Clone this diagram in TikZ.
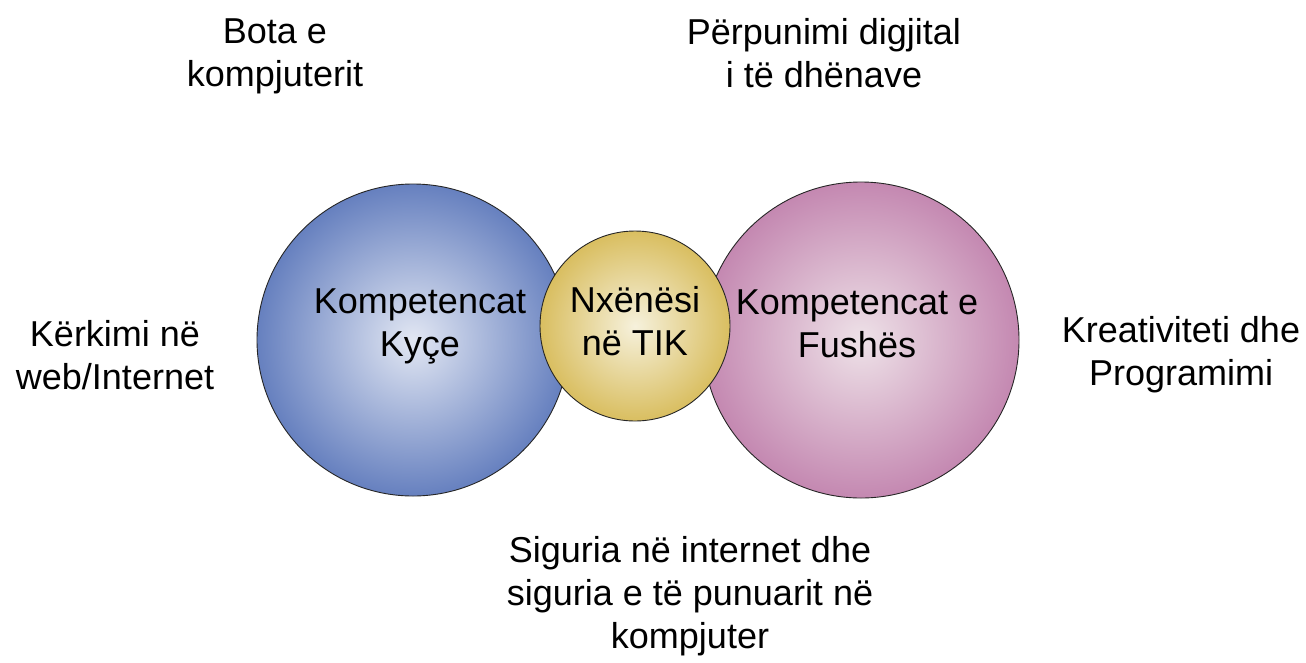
\documentclass[tikz,border=0pt]{standalone}
\usepackage{fontspec}
\setmainfont{Liberation Sans}
\definecolor{blueedge}{HTML}{6680BF}
\definecolor{bluecenter}{HTML}{E2E7F3}
\definecolor{pinkedge}{HTML}{C488B1}
\definecolor{pinkcenter}{HTML}{EEE2E8}
\definecolor{yellowedge}{HTML}{D9BE60}
\definecolor{yellowcenter}{HTML}{F6F1DC}
\begin{document}
\begin{tikzpicture}[x=1pt,y=-1pt,
  bubble/.style={circle, draw=black!85, line width=0.9pt, inner sep=0pt},
  lbl/.style={align=center, font=\fontsize{36}{43}\selectfont, text=black, inner sep=0pt}]
\useasboundingbox (0,0) rectangle (1306,662);
\node[bubble, minimum size=312pt, inner color=bluecenter, outer color=blueedge] (kyce) at (413,340) {};
\node[bubble, minimum size=316pt, inner color=pinkcenter, outer color=pinkedge] (fush) at (861,340) {};
\node[bubble, minimum size=190pt, inner color=yellowcenter, outer color=yellowedge] (nx) at (635,326) {};
\node[lbl] (tkyce) at (420,326) {Kompetencat\\Kyçe};
\node[lbl] (tnx) at (635,321) {Nxënësi\\në TIK};
\node[lbl] (tfush) at (857,324) {Kompetencat e\\Fushës};
\node[lbl] (bota) at (275,56) {Bota e\\kompjuterit};
\node[lbl] (perp) at (824,53) {Përpunimi digjital\\i të dhënave};
\node[lbl] (kerk) at (115,355) {Kërkimi në\\web/Internet};
\node[lbl] (krea) at (1181,355) {Kreativiteti dhe\\Programimi};
\node[lbl] (sig) at (690,596) {Siguria në internet dhe\\siguria e të punuarit në\\kompjuter};
\end{tikzpicture}
\end{document}
